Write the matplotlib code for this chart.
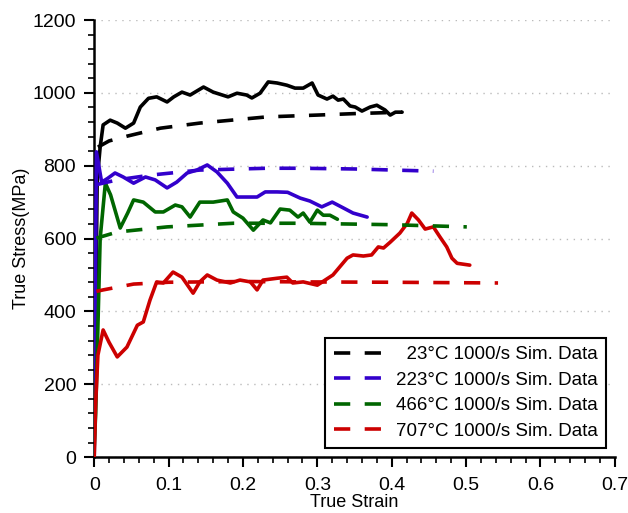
import matplotlib
matplotlib.use('Agg')
import matplotlib.pyplot as plt
from matplotlib.ticker import MultipleLocator

plt.rcParams['font.family'] = ['Liberation Sans', 'DejaVu Sans']

# experimental curves (solid)
exp_23_x = [0.0, 0.004, 0.008, 0.012, 0.0215, 0.031, 0.042, 0.053, 0.062, 0.073, 0.084, 0.098,
            0.107, 0.118, 0.129, 0.147, 0.16, 0.18, 0.192, 0.205, 0.212, 0.223, 0.234, 0.246,
            0.259, 0.27, 0.281, 0.293, 0.301, 0.313, 0.321, 0.328, 0.335, 0.344, 0.351, 0.36,
            0.371, 0.38, 0.391, 0.398, 0.405, 0.414]
exp_23_y = [0, 760, 851, 912, 925, 917, 903, 917, 961, 985, 989, 975,
            989, 1002, 994, 1016, 1002, 989, 999, 994, 986, 999, 1030, 1027,
            1021, 1013, 1013, 1027, 994, 983, 991, 980, 983, 964, 961, 950,
            961, 966, 953, 939, 947, 947]

exp_223_x = [0.0, 0.003, 0.01, 0.018, 0.028, 0.039, 0.053, 0.069, 0.082, 0.098, 0.111, 0.125,
             0.138, 0.152, 0.165, 0.179, 0.192, 0.205, 0.219, 0.23, 0.246, 0.26, 0.277, 0.29,
             0.306, 0.32, 0.335, 0.348, 0.367]
exp_223_y = [0, 838, 755, 765, 780, 769, 752, 769, 761, 739, 755, 780,
             788, 802, 783, 752, 714, 714, 714, 728, 728, 727, 711, 703,
             687, 700, 684, 670, 659]

exp_466_x = [0.0, 0.002, 0.008, 0.015, 0.022, 0.035, 0.045, 0.053, 0.066, 0.082, 0.093, 0.109,
             0.118, 0.129, 0.142, 0.16, 0.179, 0.187, 0.2, 0.214, 0.227, 0.237, 0.25, 0.263,
             0.274, 0.281, 0.29, 0.3, 0.308, 0.317, 0.327]
exp_466_y = [30, 120, 600, 752, 720, 629, 670, 706, 700, 673, 673, 692,
             687, 659, 700, 700, 706, 673, 656, 623, 651, 643, 681, 678,
             659, 670, 645, 678, 664, 664, 653]

exp_707_x = [0.0, 0.002, 0.005, 0.012, 0.02, 0.031, 0.044, 0.058, 0.066, 0.075, 0.084, 0.093,
             0.106, 0.118, 0.133, 0.142, 0.152, 0.165, 0.183, 0.196, 0.21, 0.219, 0.227, 0.246,
             0.259, 0.267, 0.281, 0.3, 0.321, 0.34, 0.348, 0.362, 0.373, 0.382, 0.389, 0.398,
             0.411, 0.421, 0.427, 0.436, 0.445, 0.456, 0.465, 0.474, 0.481, 0.488, 0.505]
exp_707_y = [0, 150, 280, 349, 315, 275, 302, 362, 371, 431, 481, 478,
             508, 494, 450, 481, 500, 486, 478, 486, 481, 459, 486, 491,
             494, 478, 481, 472, 500, 546, 555, 552, 555, 577, 574, 590,
             615, 642, 670, 651, 626, 632, 604, 577, 546, 532, 527]

# simulation curves (dashed)
sim_23_x = [0.005, 0.02, 0.044, 0.089, 0.142, 0.232, 0.30, 0.35, 0.414]
sim_23_y = [851, 868, 881, 903, 917, 934, 939, 943, 947]
sim_223_x = [0.003, 0.031, 0.075, 0.142, 0.232, 0.277, 0.35, 0.456]
sim_223_y = [748, 761, 774, 788, 793, 793, 791, 785]
sim_466_x = [0.003, 0.031, 0.098, 0.187, 0.277, 0.4, 0.501]
sim_466_y = [601, 618, 632, 642, 642, 638, 632]
sim_707_x = [0.003, 0.012, 0.053, 0.1, 0.2, 0.277, 0.4, 0.543]
sim_707_y = [455, 459, 475, 480, 482, 481, 480, 478]

colors = ['#000000', '#3300cc', '#006600', '#cc0000']
labels = ['  23°C 1000/s Sim. Data', '223°C 1000/s Sim. Data',
          '466°C 1000/s Sim. Data', '707°C 1000/s Sim. Data']

fig = plt.figure(figsize=(6.28, 5.13), dpi=100)
ax = fig.add_axes([0.150, 0.109, 0.829, 0.852])

exps = [(exp_23_x, exp_23_y), (exp_223_x, exp_223_y), (exp_466_x, exp_466_y), (exp_707_x, exp_707_y)]
sims = [(sim_23_x, sim_23_y), (sim_223_x, sim_223_y), (sim_466_x, sim_466_y), (sim_707_x, sim_707_y)]

for (ex, ey), c in zip(exps, colors):
    ax.plot(ex, ey, color=c, lw=2.6, solid_joinstyle='round', solid_capstyle='round', zorder=3)
for (sx, sy), c, lab in zip(sims, colors, labels):
    ax.plot(sx, sy, color=c, lw=2.6, linestyle=(0, (4.5, 4)), label=lab, zorder=3)

ax.set_xlim(0, 0.7)
ax.set_ylim(0, 1200)
ax.xaxis.set_minor_locator(MultipleLocator(0.02))
ax.yaxis.set_major_locator(MultipleLocator(200))
ax.yaxis.set_minor_locator(MultipleLocator(40))
ax.set_xticks([0, 0.1, 0.2, 0.3, 0.4, 0.5, 0.6, 0.7])
ax.set_xticklabels(['0', '0.1', '0.2', '0.3', '0.4', '0.5', '0.6', '0.7'])
ax.tick_params(which='major', length=7, width=1.5, labelsize=14)
ax.tick_params(which='minor', length=4, width=1.2)
ax.tick_params(axis='x', which='major', pad=7)
ax.tick_params(axis='y', which='major', pad=6)
ax.spines['top'].set_visible(False)
ax.spines['right'].set_visible(False)
ax.spines['left'].set_linewidth(1.8)
ax.spines['bottom'].set_linewidth(1.8)
ax.grid(axis='y', which='major', linestyle=(0, (1, 4)), color='#bbbbbb', lw=1)
ax.set_axisbelow(True)

ax.set_xlabel('True Strain', fontsize=13, labelpad=0)
ax.set_ylabel('True Stress(MPa)', fontsize=13, labelpad=2)

leg = ax.legend(loc='lower right', bbox_to_anchor=(0.983, 0.02), borderaxespad=0,
                fontsize=13.5, handlelength=3.0, fancybox=False, framealpha=1,
                edgecolor='black', labelspacing=0.45, handletextpad=0.3,
                borderpad=0.45)
leg.get_frame().set_linewidth(1.5)

plt.savefig('out.png', dpi=100)
